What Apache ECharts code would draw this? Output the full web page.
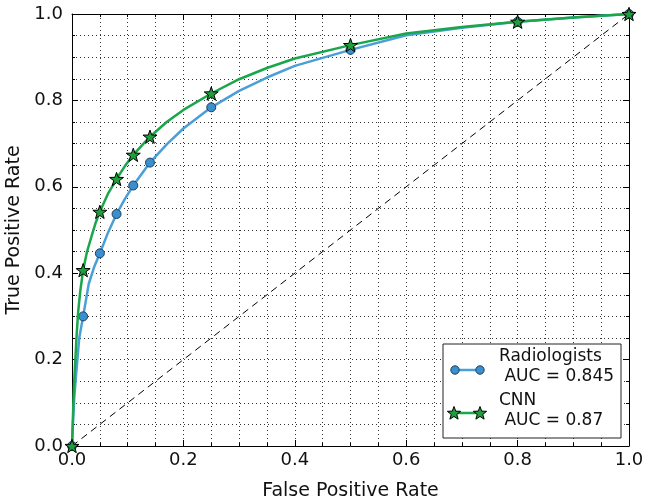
<!DOCTYPE html>
<html>
<head>
<meta charset="utf-8">
<script src="https://cdn.jsdelivr.net/npm/echarts@6/dist/echarts.min.js"></script>
<style>
  html, body { margin: 0; padding: 0; background: #fff; }
  #chart { width: 645px; height: 503px; }
</style>
</head>
<body>
<div id="chart"></div>
<script>
// ROC curves
const radFpr = [0, 0.002, 0.004, 0.007, 0.010, 0.013, 0.020, 0.030, 0.040, 0.050, 0.065, 0.080, 0.095, 0.110, 0.140, 0.170, 0.200, 0.250, 0.300, 0.350, 0.400, 0.500, 0.600, 0.700, 0.800, 0.900, 1.0];
const radTpr = [0, 0.060, 0.110, 0.160, 0.205, 0.250, 0.300, 0.375, 0.415, 0.446, 0.495, 0.537, 0.572, 0.603, 0.656, 0.698, 0.735, 0.784, 0.822, 0.853, 0.880, 0.917, 0.951, 0.968, 0.982, 0.992, 1.0];
const cnnFpr = [0, 0.002, 0.004, 0.006, 0.008, 0.011, 0.015, 0.020, 0.027, 0.035, 0.042, 0.050, 0.065, 0.080, 0.095, 0.110, 0.140, 0.170, 0.200, 0.250, 0.300, 0.350, 0.400, 0.500, 0.600, 0.700, 0.800, 0.900, 1.0];
const cnnTpr = [0, 0.080, 0.150, 0.200, 0.250, 0.310, 0.360, 0.407, 0.450, 0.485, 0.515, 0.542, 0.585, 0.618, 0.648, 0.674, 0.716, 0.750, 0.778, 0.816, 0.849, 0.875, 0.897, 0.928, 0.955, 0.970, 0.982, 0.992, 1.0];
// points where markers are drawn
const markerFpr = [0, 0.02, 0.05, 0.08, 0.11, 0.14, 0.25, 0.5, 0.8, 1.0];
const seriesNames = ['Radiologists\n AUC = 0.845', 'CNN\n AUC = 0.87'];

const BLUE = '#4a9fd6';
const BLUE_FILL = '#3a8fcf';
const GREEN = '#1aa64a';
const GREEN_FILL = '#1f9e3c';
const STAR = 'path://M0,-10L2.35,-3.24L9.51,-3.09L3.8,1.24L5.88,8.09L0,4L-5.88,8.09L-3.8,1.24L-9.51,-3.09L-2.35,-3.24Z';
const FONT = 'DejaVu Sans';
const TEXT = '#111';

function withMarkers(xs, ys) {
  return xs.map((x, i) => {
    const mark = markerFpr.some(m => Math.abs(m - x) < 1e-9);
    return mark ? { value: [x, ys[i]] } : { value: [x, ys[i]], symbol: 'none' };
  });
}

// five-pointed star outline for the hand-drawn legend icon
function starPoints(cx, cy, r) {
  const pts = [];
  for (let k = 0; k < 10; k++) {
    const rr = k % 2 === 0 ? r : r * 0.42;
    const a = -Math.PI / 2 + k * Math.PI / 5;
    pts.push([cx + rr * Math.cos(a), cy + rr * Math.sin(a)]);
  }
  return pts;
}

const gridLine = { show: true, lineStyle: { color: '#333', width: 1, type: [1, 3] } };

function mainAxis(nameGap, extra) {
  return Object.assign({
    type: 'value', min: 0, max: 1, interval: 0.2,
    nameLocation: 'middle', nameGap: nameGap,
    nameTextStyle: { fontFamily: FONT, fontSize: 19, color: TEXT },
    axisLine: { show: true, onZero: false, lineStyle: { color: '#000', width: 1 } },
    axisTick: { show: true, inside: true, length: 6, lineStyle: { color: '#000' } },
    minorTick: { show: true, splitNumber: 4, length: 3, lineStyle: { color: '#000' } },
    splitLine: gridLine,
    minorSplitLine: gridLine
  }, extra);
}

function mirrorAxis(position) {
  return {
    type: 'value', min: 0, max: 1, interval: 0.2, position: position,
    axisLine: { show: true, onZero: false, lineStyle: { color: '#000', width: 1 } },
    axisTick: { show: true, inside: true, length: 6, lineStyle: { color: '#000' } },
    minorTick: { show: true, splitNumber: 4, length: 3, lineStyle: { color: '#000' } },
    axisLabel: { show: false },
    splitLine: { show: false }
  };
}

// legend drawn by hand so the icon has a marker at both ends
const legendGraphics = [
  { type: 'rect', shape: { x: 443, y: 344, width: 178, height: 94 },
    style: { fill: '#fff', stroke: '#222', lineWidth: 1 }, z: 100 },
  { type: 'line', shape: { x1: 455, y1: 370, x2: 480, y2: 370 },
    style: { stroke: BLUE, lineWidth: 2.5 }, z: 101 },
  { type: 'circle', shape: { cx: 455, cy: 370, r: 4.2 },
    style: { fill: BLUE_FILL, stroke: '#1f3f5f', lineWidth: 1 }, z: 102 },
  { type: 'circle', shape: { cx: 480, cy: 370, r: 4.2 },
    style: { fill: BLUE_FILL, stroke: '#1f3f5f', lineWidth: 1 }, z: 102 },
  { type: 'line', shape: { x1: 454, y1: 413, x2: 480, y2: 413 },
    style: { stroke: GREEN, lineWidth: 2.5 }, z: 101 },
  { type: 'polygon', shape: { points: starPoints(454, 413.5, 7) },
    style: { fill: GREEN_FILL, stroke: '#000', lineWidth: 1 }, z: 102 },
  { type: 'polygon', shape: { points: starPoints(480, 413.5, 7) },
    style: { fill: GREEN_FILL, stroke: '#000', lineWidth: 1 }, z: 102 },
  { type: 'text', x: 499, y: 347, z: 102,
    style: { text: seriesNames[0], font: '17px "DejaVu Sans"', fill: TEXT, lineHeight: 20 } },
  { type: 'text', x: 499, y: 391, z: 102,
    style: { text: seriesNames[1], font: '17px "DejaVu Sans"', fill: TEXT, lineHeight: 20 } }
];

const chart = echarts.init(document.getElementById('chart'), null, { renderer: 'canvas' });
chart.setOption({
  animation: false,
  backgroundColor: '#fff',
  grid: { left: 72, right: 16, top: 14, bottom: 57, containLabel: false, outerBoundsMode: 'none' },
  xAxis: [
    mainAxis(36, { name: 'False Positive Rate', position: 'bottom',
      axisLabel: { fontFamily: FONT, fontSize: 18, color: TEXT, margin: 5, formatter: v => v.toFixed(1) } }),
    mirrorAxis('top')
  ],
  yAxis: [
    mainAxis(41, { name: 'True Positive Rate', position: 'left',
      axisLabel: { fontFamily: FONT, fontSize: 18, color: TEXT, margin: 9, formatter: v => v.toFixed(1) } }),
    mirrorAxis('right')
  ],
  series: [
    {
      name: 'chance', type: 'line', data: [[0, 0], [1, 1]],
      symbol: 'none', lineStyle: { color: '#000', width: 1, type: [7, 5] }, z: 1, silent: true
    },
    {
      name: seriesNames[0], type: 'line', data: withMarkers(radFpr, radTpr),
      symbol: 'circle', symbolSize: 9, showAllSymbol: true,
      lineStyle: { color: BLUE, width: 2.5 },
      itemStyle: { color: BLUE_FILL, borderColor: '#1f3f5f', borderWidth: 1 },
      z: 2
    },
    {
      name: seriesNames[1], type: 'line', data: withMarkers(cnnFpr, cnnTpr),
      symbol: STAR, symbolSize: 14, symbolKeepAspect: true, showAllSymbol: true,
      lineStyle: { color: GREEN, width: 2.5 },
      itemStyle: { color: GREEN_FILL, borderColor: '#000', borderWidth: 1 },
      z: 3
    }
  ],
  graphic: legendGraphics
});
</script>
</body>
</html>
